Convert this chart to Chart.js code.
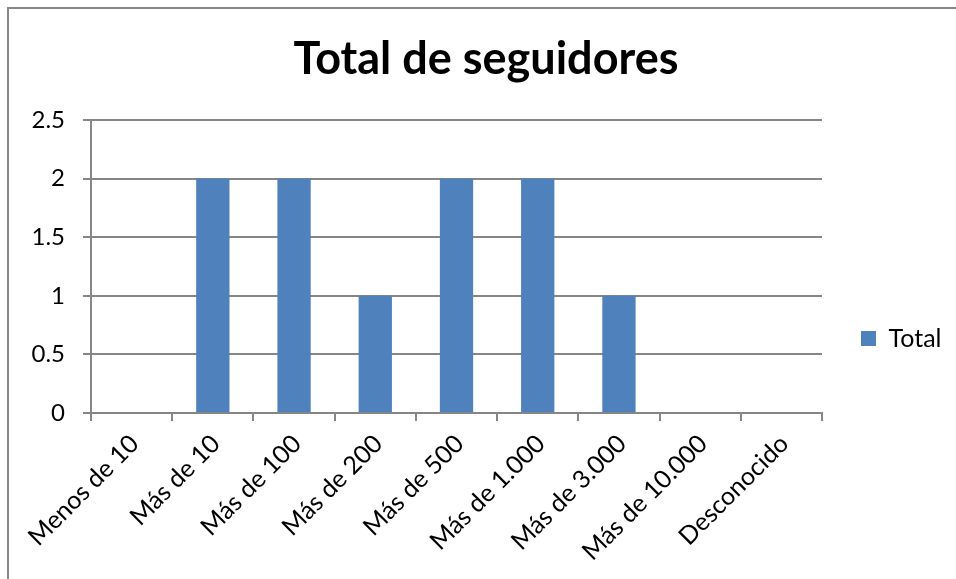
<!DOCTYPE html>
<html>
<head>
<meta charset="utf-8">
<script src="https://cdn.jsdelivr.net/npm/chart.js@4/dist/chart.umd.min.js"></script>
<style>
  html, body { margin: 0; padding: 0; background: #fff; overflow: hidden; }
  #frame { position: absolute; left: 7px; top: 7px; width: 1000px; height: 700px;
           border-left: 2px solid #878787; border-top: 2px solid #878787; }
  #wrap { position: absolute; left: 0; top: 0; width: 956px; height: 579px; }
</style>
</head>
<body>
<div id="frame"></div>
<div id="wrap"><canvas id="c" width="956" height="579"></canvas></div>
<script>
const title = "Total de seguidores";
const categories = ["Menos de 10", "Más de 10", "Más de 100", "Más de 200", "Más de 500", "Más de 1.000", "Más de 3.000", "Más de 10.000", "Desconocido"];
const seriesName = "Total";
const totals = [0, 2, 2, 1, 2, 2, 1, 0, 0];
const yTicks = [0, 0.5, 1, 1.5, 2, 2.5];

const FONT = "Lato, 'Liberation Sans', sans-serif";
const GRID = "#868686";

const layoutPatch = {
  id: 'layoutPatch',
  beforeLayout(chart) {
    const lg = chart.legend;
    if (lg && !lg._patched) {
      const orig = lg.fit.bind(lg);
      lg.fit = function () { orig(); this.width = 134; };
      lg._patched = true;
    }
  },
  afterLayout(chart) {
    const lg = chart.legend;
    if (lg) {
      lg.left += 31; lg.right += 31;
      lg.top += 39; lg.bottom += 39;
    }
    const tb = chart.titleBlock;
    if (tb) {
      tb.left += 8; tb.right += 8;
      tb.top += 2; tb.bottom += 2;
    }
  }
};

new Chart(document.getElementById('c'), {
  type: 'bar',
  data: {
    labels: categories,
    datasets: [{
      label: seriesName,
      data: totals,
      backgroundColor: '#4F81BD',
      borderWidth: 0,
      categoryPercentage: 1.0,
      barPercentage: 0.41
    }]
  },
  plugins: [layoutPatch],
  options: {
    responsive: false,
    animation: false,
    devicePixelRatio: 1,
    layout: { padding: { left: 0, right: 0, top: 20, bottom: 0 } },
    plugins: {
      title: {
        display: true, text: title, color: '#000',
        font: { family: FONT, size: 45, weight: 'bold' },
        padding: { top: 10, bottom: 36 }
      },
      legend: {
        display: true, position: 'right',
        labels: {
          color: '#000', font: { family: FONT, size: 25 },
          boxWidth: 15, boxHeight: 15, padding: 8
        }
      },
      tooltip: { enabled: false }
    },
    scales: {
      x: {
        grid: { display: true, drawOnChartArea: false, drawTicks: true, tickLength: 8, color: GRID, lineWidth: 2, offset: true },
        border: { display: true, color: GRID, width: 2 },
        ticks: { color: '#000', font: { family: FONT, size: 25 }, maxRotation: 45, minRotation: 45, padding: 8, labelOffset: 3, autoSkip: false },
        afterFit: s => { s.height = 579 - 413; }
      },
      y: {
        min: 0, max: 2.5,
        afterBuildTicks: s => { s.ticks = yTicks.map(v => ({ value: v })); },
        grid: { color: GRID, lineWidth: 2, tickLength: 8 },
        border: { display: true, color: GRID, width: 2 },
        ticks: { color: '#000', font: { family: FONT, size: 24 }, padding: 18,
                 callback: v => String(v) },
        afterFit: s => { s.width = 91; }
      }
    }
  }
});
</script>
</body>
</html>
